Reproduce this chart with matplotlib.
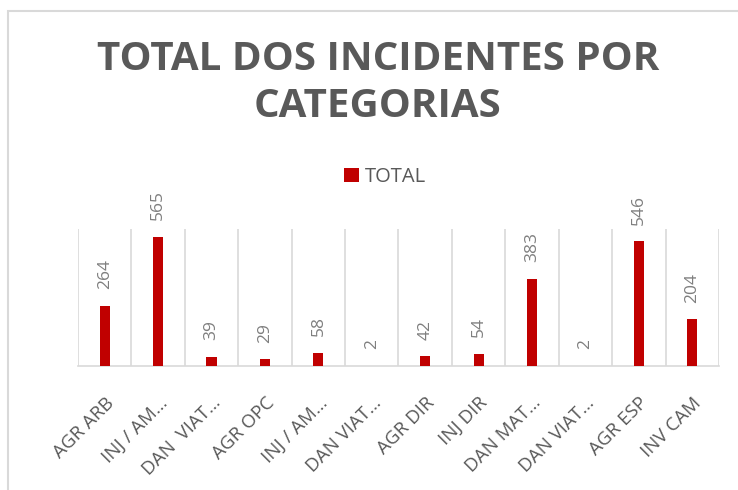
import matplotlib
matplotlib.use("Agg")
import matplotlib.pyplot as plt
from matplotlib.patches import Rectangle
import numpy as np

categories = ["AGR ARB", "INJ / AM\u2026", "DAN  VIAT\u2026", "AGR OPC", "INJ / AM\u2026", "DAN VIAT\u2026",
              "AGR DIR", "INJ DIR", "DAN MAT\u2026", "DAN VIAT\u2026", "AGR ESP", "INV CAM"]
values = [264, 565, 39, 29, 58, 2, 42, 54, 383, 2, 546, 204]
series_name = "TOTAL"
title_lines = ["TOTAL DOS INCIDENTES POR", "CATEGORIAS"]

BAR = "#C00000"
TXT = "#595959"
LBL = "#7F7F7F"
GRID = "#D9D9D9"

plt.rcParams['font.family'] = ['Open Sans', 'DejaVu Sans']

fig = plt.figure(figsize=(7.38, 4.90), dpi=100)
fig.patch.set_facecolor("white")

# outer chart frame
fig.add_artist(Rectangle((8/738, -0.05), 1.0, 1 - 11/490 + 0.05, transform=fig.transFigure,
                         fill=False, edgecolor=GRID, linewidth=1.5, clip_on=False))

ax = fig.add_axes([78/738, 1 - 366/490, 641/738, 137/490])
x = np.arange(len(categories))
bars = ax.bar(x, values, width=0.19, color=BAR, label=series_name, zorder=3)

ax.set_xlim(-0.5, len(categories) - 0.5)
ax.set_ylim(0, 600)
for b in np.arange(-0.5, len(categories), 1.0):
    ax.axvline(b, color=GRID, linewidth=1.2, zorder=1)
for s in ["top", "right", "left"]:
    ax.spines[s].set_visible(False)
ax.spines["bottom"].set_color(GRID)
ax.spines["bottom"].set_linewidth(1.2)
ax.set_yticks([])
ax.set_xticks(x)
ax.set_xticklabels(categories, rotation=45, ha="right", va="top", rotation_mode="anchor",
                   fontsize=13.5, color=TXT)
ax.tick_params(axis="x", length=0, pad=20)

for xi, v in zip(x, values):
    ax.annotate(str(v), (xi, v), xytext=(0, 12), textcoords="offset points",
                rotation=90, ha="center", va="bottom", fontsize=12.5, color=LBL)

fig.text(0.512, 1 - 59/490, title_lines[0], ha="center", va="center",
         fontsize=29, fontweight="bold", color=TXT)
fig.text(0.512, 1 - 106/490, title_lines[1], ha="center", va="center",
         fontsize=29, fontweight="bold", color=TXT)

fig.legend(handles=[bars], labels=[series_name], loc="center", bbox_to_anchor=(0.522, 1 - 177/490),
           frameon=False, fontsize=14.5, labelcolor=TXT, handlelength=0.75, handleheight=0.75,
           handletextpad=0.3)

fig.savefig("out.png", dpi=100)
